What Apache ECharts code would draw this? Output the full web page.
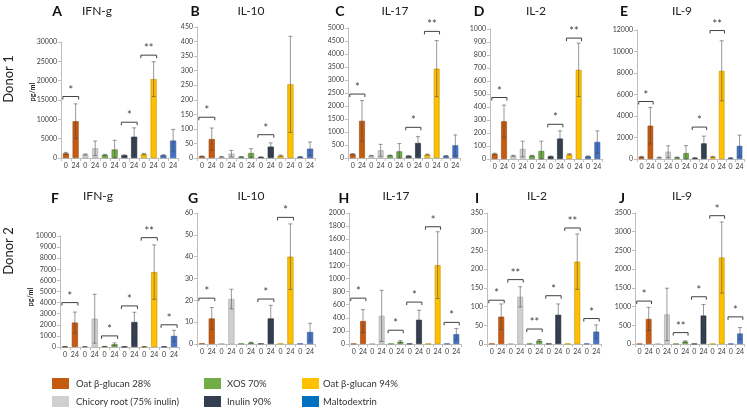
<!DOCTYPE html>
<html><head><meta charset="utf-8">
<script src="https://cdn.jsdelivr.net/npm/echarts@6/dist/echarts.min.js"></script>
<style>html,body{margin:0;padding:0;background:#fff}#c{width:747px;height:409px}</style>
</head><body><div id="c"></div><script>
const treatments = ['Oat β-glucan 28%','Chicory root (75% inulin)','XOS 70%','Inulin 90%','Oat β-glucan 94%','Maltodextrin'];
const timeLabels = ['0','24','0','24','0','24','0','24','0','24','0','24'];
const panelLetters = ['A','B','C','D','E','F','G','H','I','J'];
const cytokines = ['IFN-g','IL-10','IL-17','IL-2','IL-9','IFN-g','IL-10','IL-17','IL-2','IL-9'];
const donors = ['Donor 1','Donor 2'];
const unitLabel = 'pg/ml';
const yMax = [30000,450,5000,1000,12000,10000,60,2000,350,3500];
const yStep = [5000,50,500,100,2000,1000,10,200,50,500];

// mean values (order: Oat28 0h,24h, Chicory 0h,24h, XOS 0h,24h, Inulin 0h,24h, Oat94 0h,24h, Malto 0h,24h)
const meanA = [1200,9500,900,2500,800,2200,700,5500,1000,20400,700,4500];
const errA  = [250,4500,150,1900,150,2400,120,2300,200,4500,150,2900];
const meanB = [6,65,4,15,4,17,3,39,8,253,4,32];
const errB  = [1,38,1,11,1,15,1,13,2,165,1,23];
const meanC = [150,1430,90,295,100,255,80,577,130,3436,80,487];
const errC  = [20,780,10,230,10,300,10,245,20,1080,10,400];
const meanD = [40,290,25,77,25,62,20,157,36,686,20,131];
const errD  = [5,125,4,60,3,75,3,60,5,205,3,85];
const meanE = [200,3100,150,680,150,550,100,1450,200,8200,100,1220];
const errE  = [40,1700,30,550,30,700,20,680,40,2800,20,1000];
const meanF = [30,2200,30,2550,50,250,30,2250,30,6750,30,1000];
const errF  = [10,950,10,2200,10,120,10,880,10,2450,10,500];
const meanG = [0.3,11.7,0.2,20.6,0.2,0.6,0.2,11.7,0.2,40,0.2,5.5];
const errG  = [0,5,0,4.5,0,0.2,0,6,0,15,0,4];
const meanH = [5,350,5,430,5,35,5,370,5,1204,5,150];
const errH  = [0,175,0,390,0,15,0,145,0,510,0,85];
const meanI = [1,73,1,126,1,9,1,78,1,220,1,33];
const errI  = [0,34,0,27,0,3,0,29,0,74,0,18];
const meanJ = [5,670,5,790,5,65,5,760,5,2310,5,280];
const errJ  = [0,310,0,700,0,20,0,295,0,950,0,160];

// significance brackets: [treatment index, bracket height, label]
const sigA = [[0,15900,'*'],[3,9250,'*'],[4,26600,'**']];
const sigB = [[0,140,'*'],[3,80,'*']];
const sigC = [[0,2460,'*'],[3,1180,'*'],[4,4870,'**']];
const sigD = [[0,473,'*'],[3,267,'*'],[4,930,'**']];
const sigE = [[0,5350,'*'],[3,2970,'*'],[4,11950,'**']];
const sigF = [[0,4000,'*'],[2,1000,'*'],[3,3700,'*'],[4,9850,'**'],[5,2000,'*']];
const sigG = [[0,21,'*'],[3,20.6,'*'],[4,58,'*']];
const sigH = [[0,700,'*'],[2,210,'*'],[3,640,'*'],[4,1790,'*'],[5,330,'*']];
const sigI = [[0,117,'*'],[1,172,'**'],[2,40,'**'],[3,129,'*'],[4,310,'**'],[5,68,'*']];
const sigJ = [[0,1146,'*'],[2,304,'**'],[3,1262,'*'],[4,3428,'*'],[5,725,'*']];

const means = [meanA,meanB,meanC,meanD,meanE,meanF,meanG,meanH,meanI,meanJ];
const errs = [errA,errB,errC,errD,errE,errF,errG,errH,errI,errJ];
const sigs = [sigA,sigB,sigC,sigD,sigE,sigF,sigG,sigH,sigI,sigJ];

// styling
const barColors = ['#C55A11','#D0CECE','#70AD47','#333F50','#FFC000','#4472C4'];
const barBorders = ['#9E480E','#A6A6A6','#507E32','#222A35','#BF9000','#2F5597'];
const legendColors = ['#C55A11','#D0CECE','#70AD47','#333F50','#FFC000','#0070C0'];
const FONT = 'Lato, "Open Sans", sans-serif';
const grids = [
  {left:61,top:42,width:117,height:116},
  {left:197,top:27,width:118,height:131},
  {left:348,top:28,width:112,height:130},
  {left:490,top:29,width:112,height:130},
  {left:637,top:30,width:107,height:129},
  {left:60,top:236,width:119,height:111},
  {left:197,top:213,width:118,height:131},
  {left:349,top:213,width:112,height:131},
  {left:487,top:213,width:114,height:131},
  {left:635,top:213,width:111,height:131}
];
const BARFRAC = 0.62;
const axisGray = '#BFBFBF';
const labelCol = '#404040';

const option = {animation:false, grid:[], xAxis:[], yAxis:[], series:[], graphic:[]};

grids.forEach((g,p)=>{
  option.grid.push(g);
  option.xAxis.push({type:'category', gridIndex:p, data:timeLabels,
    axisLine:{lineStyle:{color:axisGray,width:1}},
    axisTick:{show:true,length:3,lineStyle:{color:axisGray}},
    axisLabel:{interval:0,fontSize:7,color:labelCol,fontFamily:FONT,margin:4}});
  option.yAxis.push({type:'value', gridIndex:p, min:0, max:yMax[p], interval:yStep[p],
    axisLine:{show:true,lineStyle:{color:axisGray,width:1}},
    axisTick:{show:true,length:3,lineStyle:{color:axisGray}},
    splitLine:{show:false},
    axisLabel:{fontSize:7,color:labelCol,fontFamily:FONT,margin:4,formatter:v=>String(v)}});
  const m = means[p], e = errs[p], s = sigs[p];
  option.series.push({type:'bar', xAxisIndex:p, yAxisIndex:p, barWidth:(BARFRAC*100)+'%',
    data:m.map((v,i)=>({value:v,itemStyle:{color:barColors[Math.floor(i/2)],borderColor:barBorders[Math.floor(i/2)],borderWidth:0.6}}))});
  option.series.push({type:'custom', xAxisIndex:p, yAxisIndex:p, clip:false, z:5,
    data:m.map((v,i)=>[i,v]),
    renderItem:function(params,api){
      const i = params.dataIndex, er = e[i], v = m[i];
      if(!er) return null;
      const t = api.coord([i, v+er]), b = api.coord([i, Math.max(0,v-er)]);
      const st = {stroke:'rgba(70,70,70,0.55)',lineWidth:1};
      const c = 2;
      return {type:'group',children:[
        {type:'line',shape:{x1:t[0],y1:t[1],x2:b[0],y2:b[1]},style:st},
        {type:'line',shape:{x1:t[0]-c,y1:t[1],x2:t[0]+c,y2:t[1]},style:st},
        {type:'line',shape:{x1:b[0]-c,y1:b[1],x2:b[0]+c,y2:b[1]},style:st}
      ]};
    }});
  option.series.push({type:'custom', xAxisIndex:p, yAxisIndex:p, clip:false, z:6,
    data:s.map(d=>[d[0]*2,d[1]]),
    renderItem:function(params,api){
      const d = s[params.dataIndex];
      const bw = api.size([1,0])[0]*BARFRAC;
      const a = api.coord([d[0]*2, d[1]]), b = api.coord([d[0]*2+1, d[1]]);
      const x0 = a[0]-bw/2, x1 = b[0]+bw/2, y = a[1];
      return {type:'group',children:[
        {type:'polyline',shape:{points:[[x0,y+3],[x0,y],[x1,y],[x1,y+3]]},style:{stroke:'#404040',lineWidth:1,fill:null}},
        {type:'text',x:(x0+x1)/2,y:y-1,style:{text:d[2],fontSize:11,fontFamily:FONT,fill:'#404040',align:'center',verticalAlign:'bottom'}}
      ]};
    }});
});

// panel letters and titles
const letterPos = [[57,11],[195,11],[340,11],[479,11],[624,11],[55,198],[193,198],[344,198],[477,198],[622,198]];
const titlePos = [[97,11],[251,11],[395,11],[536,11],[682,11],[98,196],[251,196],[396,196],[537,196],[682,196]];
panelLetters.forEach((L,p)=>{
  option.graphic.push({type:'text',x:letterPos[p][0],y:letterPos[p][1],style:{text:L,fontSize:14,fontWeight:'bold',fontFamily:FONT,fill:'#111',align:'center',verticalAlign:'middle'}});
  option.graphic.push({type:'text',x:titlePos[p][0],y:titlePos[p][1],style:{text:cytokines[p],fontSize:12,fontFamily:FONT,fill:'#222',align:'center',verticalAlign:'middle'}});
});
// donor labels and units
[[9,79],[9,251]].forEach((pos,r)=>{
  option.graphic.push({type:'text',x:pos[0],y:pos[1],rotation:Math.PI/2,style:{text:donors[r],fontSize:13,fontFamily:FONT,fill:'#222',align:'center',verticalAlign:'middle'}});
});
[[33,92],[31,297]].forEach(pos=>{
  option.graphic.push({type:'text',x:pos[0],y:pos[1],rotation:Math.PI/2,style:{text:unitLabel,fontSize:7,fontWeight:'bold',fontFamily:FONT,fill:'#222',align:'center',verticalAlign:'middle'}});
});
// legend
const legPos = [[52,378],[52,396],[204,378],[204,396],[302,378],[302,396]];
treatments.forEach((t,i)=>{
  const [x,y] = legPos[i];
  option.graphic.push({type:'rect',shape:{x:x,y:y,width:17,height:11},style:{fill:legendColors[i]}});
  option.graphic.push({type:'text',x:x+(i<2?24:(i<4?23:21)),y:y+5.5,style:{text:t,fontSize:9.5,fontFamily:FONT,fill:'#333',align:'left',verticalAlign:'middle'}});
});

const chart = echarts.init(document.getElementById('c'),null,{renderer:'canvas'});
chart.setOption(option);
</script></body></html>
